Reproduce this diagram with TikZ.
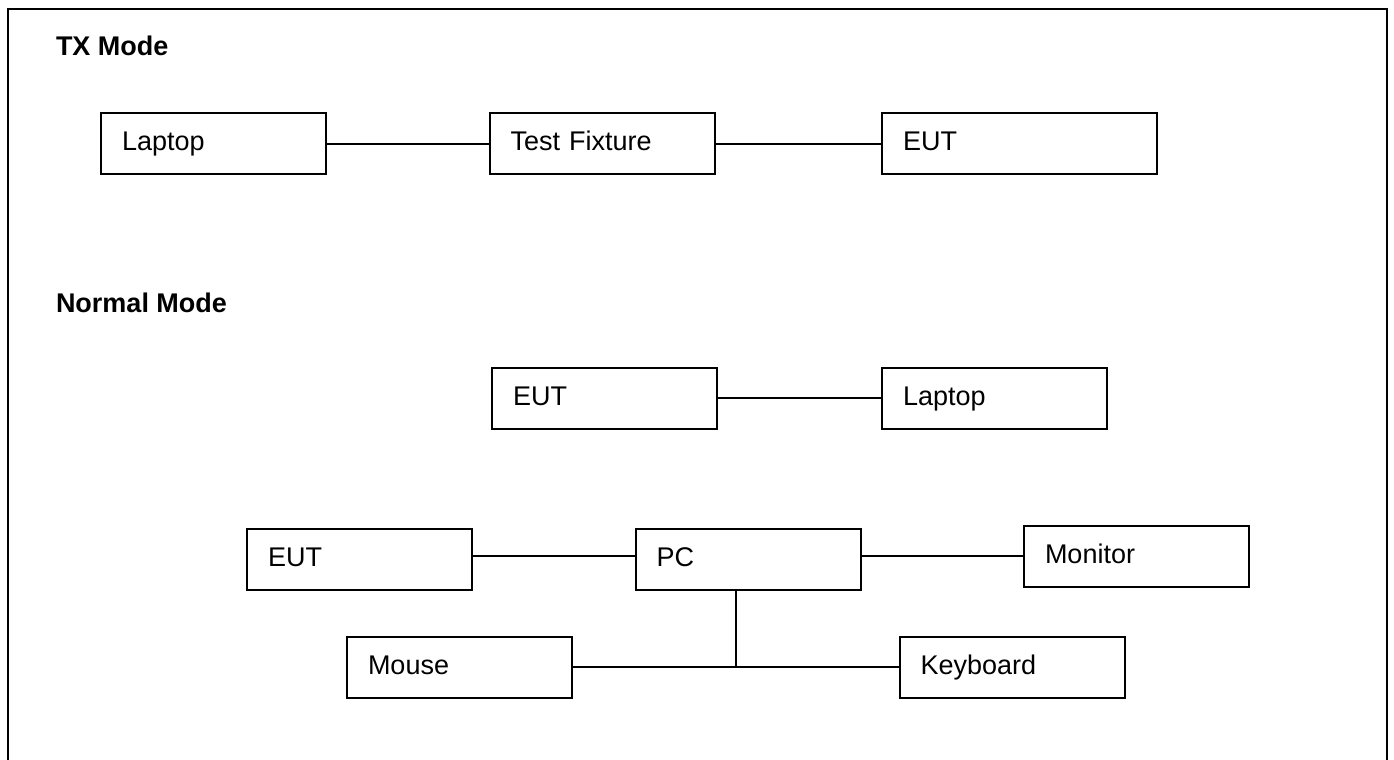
\documentclass[tikz,border=0pt]{standalone}
\usepackage{fontspec}
\setmainfont{Liberation Sans}
\begin{document}
\begin{tikzpicture}[x=0.5pt,y=-0.5pt,line width=1pt]
		\tikzstyle{unit}=[draw,shape=rectangle,minimum height=30.5pt,inner xsep=10.5pt,inner ysep=0pt,text width=91.5pt,text height=9.5pt,text depth=2.5pt,align=left,font=\fontsize{13.5}{16}\selectfont]
		\tikzstyle{title}=[anchor=base west,inner sep=0pt,font=\fontsize{13.5}{16}\selectfont\bfseries]

		\useasboundingbox (0,0) rectangle (1394,760);
		\draw (8,760) -- (8,9) -- (1387,9) -- (1387,760);

		\node[title](tx) at (55,55){TX Mode};
		\node[title](normal) at (55,312){Normal Mode};

		\node[unit](lap1) at (213.5,143.5){Laptop};
		\node[unit](fix) at (602,143.5){Test Fixture};
		\node[unit,text width=116.5pt](eut1) at (1019.5,143.5){EUT};

		\node[unit](eut2) at (604.5,398){EUT};
		\node[unit](lap2) at (994.5,398){Laptop};

		\node[unit](eut3) at (359.5,559.5){EUT};
		\node[unit](pc) at (748,559.5){PC};
		\node[unit](mon) at (1136.5,556){Monitor};
		\node[unit](mouse) at (459.5,667){Mouse};
		\node[unit](kbd) at (1012,667){Keyboard};
		\coordinate (j) at (736,667);

		\draw (lap1) -- (fix);
		\draw (fix) -- (eut1);
		\draw (eut2) -- (lap2);
		\draw (eut3.east |- mon.west) -- (pc.west |- mon.west);
		\draw (pc.east |- mon.west) -- (mon.west);
		\draw (mouse) -- (kbd);
		\draw (j) -- (j |- pc.south);
\end{tikzpicture}
\end{document}
